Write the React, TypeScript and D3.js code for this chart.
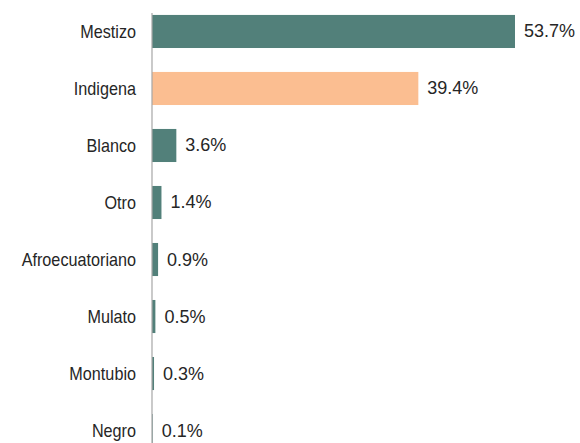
import React from "react";
import * as d3 from "d3";

const categories = ["Mestizo", "Indigena", "Blanco", "Otro", "Afroecuatoriano", "Mulato", "Montubio", "Negro"];
const values = [53.7, 39.4, 3.6, 1.4, 0.9, 0.5, 0.3, 0.1];
const valueLabels = ["53.7%", "39.4%", "3.6%", "1.4%", "0.9%", "0.5%", "0.3%", "0.1%"];
const highlight = ["Indigena"];

const W = 580;
const H = 443;
const TEAL = "#52807a";
const ORANGE = "#fbbe91";

export default function App() {
  const x = d3.scaleLinear().domain([0, 53.7]).range([152, 515]);
  const y = d3
    .scaleBand<string>()
    .domain(categories)
    .range([-9, 471])
    .paddingInner(0.42)
    .paddingOuter(0.42);

  const font = "'Liberation Sans', Arial, sans-serif";

  return (
    <svg
      width={W}
      height={H}
      style={{ position: "absolute", left: 0, top: 0, background: "#fff" }}
      fontFamily={font}
    >
      <rect x={0} y={0} width={W} height={H} fill="#fff" />
      {categories.map((c, i) => {
        const y0 = y(c)!;
        const bw = y.bandwidth();
        const cy = y0 + bw / 2;
        return (
          <g key={c}>
            <rect
              x={x(0)}
              y={y0}
              width={Math.max(0, x(values[i]) - x(0))}
              height={bw}
              fill={highlight.includes(c) ? ORANGE : TEAL}
            />
            <text
              transform={`translate(136,${cy}) scale(0.9,1.05)`}
              textAnchor="end"
              dominantBaseline="central"
              fontSize={18}
              fill="#262626"
            >
              {c}
            </text>
            <text
              x={x(values[i]) + 9}
              y={cy}
              textAnchor="start"
              dominantBaseline="central"
              fontSize={18}
              fill="#262626"
            >
              {valueLabels[i]}
            </text>
          </g>
        );
      })}
      <line x1={x(0)} x2={x(0)} y1={13} y2={H} stroke="#a6a6a6" strokeWidth={1.2} />
    </svg>
  );
}
